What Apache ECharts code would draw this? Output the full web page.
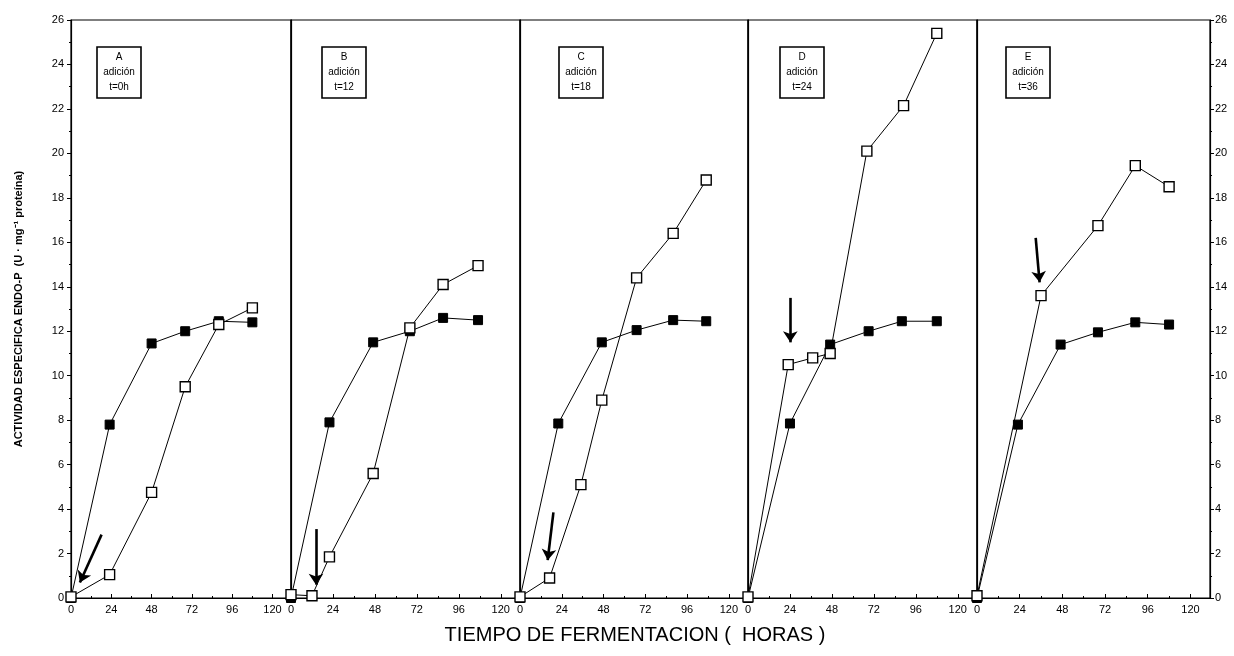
<!DOCTYPE html>
<html>
<head>
<meta charset="utf-8">
<script src="https://cdn.jsdelivr.net/npm/echarts@6/dist/echarts.min.js"></script>
<style>
  html, body { margin: 0; padding: 0; background: #fff; }
  #chart { width: 1234px; height: 656px; }
</style>
</head>
<body>
<div id="chart"></div>
<script>
// Endo-P specific activity over fermentation time, five addition schemes (A–E)
const panelNames = ['A', 'B', 'C', 'D', 'E'];
const additionLabels = ['t=0h', 't=12', 't=18', 't=24', 't=36'];
const xTicks = [0, 24, 48, 72, 96, 120];

// filled squares: [hours, U·mg-1]
const filledA = [[0, 0], [23, 7.8], [48, 11.45], [68, 12.0], [88, 12.45], [108, 12.4]];
const filledB = [[0, 0], [22, 7.9], [47, 11.5], [68, 12.0], [87, 12.6], [107, 12.5]];
const filledC = [[0, 0], [22, 7.85], [47, 11.5], [67, 12.05], [88, 12.5], [107, 12.45]];
const filledD = [[0, 0], [24, 7.85], [47, 11.4], [69, 12.0], [88, 12.45], [108, 12.45]];
const filledE = [[0, 0], [23, 7.8], [47, 11.4], [68, 11.95], [89, 12.4], [108, 12.3]];

// open squares: [hours, U·mg-1]
const openA = [[0, 0.05], [23, 1.05], [48, 4.75], [68, 9.5], [88, 12.3], [108, 13.05]];
const openB = [[0, 0.15], [12, 0.1], [22, 1.85], [47, 5.6], [68, 12.15], [87, 14.1], [107, 14.95]];
const openC = [[0, 0.05], [17, 0.9], [35, 5.1], [47, 8.9], [67, 14.4], [88, 16.4], [107, 18.8]];
const openD = [[0, 0.05], [23, 10.5], [37, 10.8], [47, 11.0], [68, 20.1], [89, 22.15], [108, 25.4]];
const openE = [[0, 0.1], [36, 13.6], [68, 16.75], [89, 19.45], [108, 18.5]];

// addition arrows: [start, end] in data units
const arrowA = [[18.2, 2.85], [5.3, 0.7]];
const arrowB = [[14.3, 3.1], [14.3, 0.6]];
const arrowC = [[19.2, 3.85], [15.9, 1.7]];
const arrowD = [[24.2, 13.5], [24.2, 11.5]];
const arrowE = [[33.0, 16.2], [35.2, 14.2]];

const filledSets = [filledA, filledB, filledC, filledD, filledE];
const openSets = [openA, openB, openC, openD, openE];
const arrows = [arrowA, arrowB, arrowC, arrowD, arrowE];

const FONT = 'Liberation Sans, Arial, sans-serif';
const panelEdges = [71, 291, 520, 748, 977, 1210];
const xMax = 131;

const grids = [], xAxes = [], yAxes = [], series = [], titles = [];

panelNames.forEach((name, i) => {
  const left = panelEdges[i], right = panelEdges[i + 1];
  grids.push({
    left: left, width: right - left, top: 20, bottom: 58,
    show: true, borderColor: '#000', borderWidth: 1.2, backgroundColor: 'transparent'
  });
  xAxes.push({
    type: 'value', gridIndex: i, min: 0, max: xMax, interval: 24,
    axisLine: { show: true, onZero: false, lineStyle: { color: '#000', width: 1.2 } },
    axisTick: { show: true, inside: true, length: 4, lineStyle: { color: '#000' } },
    minorTick: { show: true, splitNumber: 2, length: 2, lineStyle: { color: '#000' } },
    axisLabel: {
      color: '#000', fontSize: 11, fontFamily: FONT, margin: 6,
      showMaxLabel: false,
      formatter: v => (xTicks.indexOf(v) >= 0 ? String(v) : '')
    },
    splitLine: { show: false }
  });
  yAxes.push({
    type: 'value', gridIndex: i, min: 0, max: 26, interval: 2,
    axisLine: { show: true, lineStyle: { color: '#000', width: 1.2 } },
    axisTick: { show: i === 0, inside: false, length: 4, lineStyle: { color: '#000' } },
    minorTick: { show: i === 0, splitNumber: 2, length: 2, lineStyle: { color: '#000' } },
    axisLabel: { show: i === 0, color: '#000', fontSize: 11, fontFamily: FONT, margin: 7 },
    splitLine: { show: false },
    name: i === 0 ? 'ACTIVIDAD ESPECIFICA ENDO-P  (U · mg⁻¹ proteína)' : '',
    nameLocation: 'middle', nameRotate: 90, nameGap: 47,
    nameTextStyle: { color: '#000', fontSize: 11, fontWeight: 'bold', fontFamily: FONT }
  });

  series.push({
    type: 'line', xAxisIndex: i, yAxisIndex: i, data: filledSets[i],
    symbol: 'rect', symbolSize: 9, z: 3,
    lineStyle: { color: '#000', width: 1 },
    itemStyle: { color: '#000', borderColor: '#000', borderWidth: 1 },
    animation: false, silent: true
  });
  const a = arrows[i];
  series.push({
    type: 'line', xAxisIndex: i, yAxisIndex: i, data: openSets[i],
    symbol: 'rect', symbolSize: 10, z: 4,
    lineStyle: { color: '#000', width: 1 },
    itemStyle: { color: '#fff', borderColor: '#000', borderWidth: 1.4 },
    animation: false, silent: true,
    markLine: {
      silent: true, animation: false,
      symbol: ['none', 'arrow'], symbolSize: 11,
      label: { show: false },
      lineStyle: { color: '#000', width: 2.6, type: 'solid' },
      data: [[{ coord: a[0] }, { coord: a[1] }]]
    }
  });

  const boxCenter = [113, 338, 575, 796, 1022][i];
  titles.push({
    text: name + '\nadición\n' + additionLabels[i],
    left: boxCenter, top: 47, textAlign: 'center',
    padding: [3, 6], borderColor: '#000', borderWidth: 1.6,
    textStyle: { color: '#000', fontSize: 10, fontWeight: 'normal', fontFamily: FONT, lineHeight: 15 }
  });
});

// right-hand value axis on the last panel
yAxes.push({
  type: 'value', gridIndex: 4, position: 'right', min: 0, max: 26, interval: 2,
  axisLine: { show: true, lineStyle: { color: '#000', width: 1.2 } },
  axisTick: { show: true, inside: false, length: 4, lineStyle: { color: '#000' } },
  minorTick: { show: true, splitNumber: 2, length: 2, lineStyle: { color: '#000' } },
  axisLabel: { color: '#000', fontSize: 11, fontFamily: FONT, margin: 5 },
  splitLine: { show: false }
});

titles.push({
  text: 'TIEMPO DE FERMENTACION (  HORAS )',
  left: 630, top: 620, textAlign: 'center',
  textStyle: { color: '#000', fontSize: 20, fontWeight: 'normal', fontFamily: FONT }
});

const chart = echarts.init(document.getElementById('chart'), null, { renderer: 'canvas' });
chart.setOption({
  backgroundColor: '#fff',
  animation: false,
  title: titles,
  grid: grids,
  xAxis: xAxes,
  yAxis: yAxes,
  series: series
});
</script>
</body>
</html>
